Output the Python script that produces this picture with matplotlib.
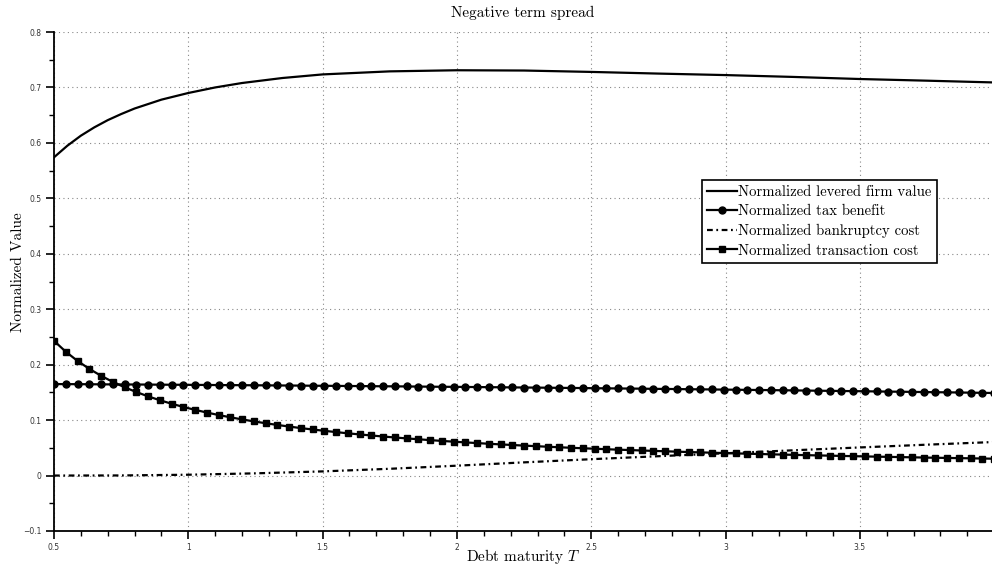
import numpy as np
import matplotlib
matplotlib.use("Agg")
import matplotlib.pyplot as plt
from matplotlib.ticker import MultipleLocator, FuncFormatter

# ---------------- data ----------------
maturity_grid = np.linspace(0.5, 4.0, 81)

tax_benefit = [
    0.1650, 0.1649, 0.1648, 0.1647, 0.1645, 0.1644, 0.1643, 0.1642, 0.1641, 0.1639,
    0.1638, 0.1637, 0.1635, 0.1634, 0.1632, 0.1631, 0.1630, 0.1628, 0.1627, 0.1625,
    0.1624, 0.1622, 0.1620, 0.1619, 0.1617, 0.1615, 0.1614, 0.1612, 0.1610, 0.1609,
    0.1607, 0.1605, 0.1603, 0.1601, 0.1600, 0.1598, 0.1596, 0.1594, 0.1592, 0.1590,
    0.1588, 0.1586, 0.1584, 0.1582, 0.1580, 0.1578, 0.1575, 0.1573, 0.1571, 0.1569,
    0.1567, 0.1564, 0.1562, 0.1560, 0.1557, 0.1555, 0.1553, 0.1550, 0.1548, 0.1545,
    0.1543, 0.1541, 0.1538, 0.1536, 0.1533, 0.1530, 0.1528, 0.1525, 0.1523, 0.1520,
    0.1517, 0.1514, 0.1512, 0.1509, 0.1506, 0.1503, 0.1501, 0.1498, 0.1495, 0.1492,
    0.1489,
]

transaction_cost = [
    0.2430, 0.2234, 0.2068, 0.1925, 0.1800, 0.1690, 0.1593, 0.1507, 0.1429, 0.1359,
    0.1296, 0.1238, 0.1185, 0.1137, 0.1092, 0.1051, 0.1013, 0.0977, 0.0944, 0.0913,
    0.0884, 0.0856, 0.0831, 0.0807, 0.0784, 0.0762, 0.0742, 0.0723, 0.0704, 0.0687,
    0.0670, 0.0655, 0.0639, 0.0625, 0.0611, 0.0598, 0.0586, 0.0573, 0.0562, 0.0551,
    0.0540, 0.0530, 0.0520, 0.0510, 0.0501, 0.0492, 0.0484, 0.0475, 0.0467, 0.0460,
    0.0452, 0.0445, 0.0438, 0.0431, 0.0424, 0.0418, 0.0412, 0.0406, 0.0400, 0.0394,
    0.0389, 0.0383, 0.0378, 0.0373, 0.0368, 0.0363, 0.0359, 0.0354, 0.0350, 0.0345,
    0.0341, 0.0337, 0.0333, 0.0329, 0.0325, 0.0321, 0.0318, 0.0314, 0.0311, 0.0307,
    0.0304,
]

firm_T = [0.5, 0.55, 0.6, 0.65, 0.7, 0.75, 0.8, 0.9, 1.0, 1.1, 1.2, 1.35, 1.5,
          1.75, 2.0, 2.25, 2.5, 2.75, 3.0, 3.25, 3.5, 3.75, 4.0]
firm_value = [0.574, 0.595, 0.613, 0.628, 0.641, 0.652, 0.662, 0.678, 0.690,
              0.700, 0.708, 0.717, 0.7235, 0.729, 0.731, 0.7305, 0.728, 0.725,
              0.7223, 0.719, 0.7152, 0.7122, 0.709]

bank_T = [0.5, 0.75, 1.0, 1.25, 1.5, 1.75, 2.0, 2.25, 2.5, 2.75, 3.0, 3.25,
          3.5, 3.75, 4.0]
bankruptcy_cost = [0.0, 0.0002, 0.0015, 0.0040, 0.0075, 0.0122, 0.0178, 0.0238,
                   0.0295, 0.0349, 0.0402, 0.0455, 0.0507, 0.0557, 0.0605]

labels = ["Normalized levered firm value", "Normalized tax benefit",
          "Normalized bankruptcy cost", "Normalized transaction cost"]

# ---------------- style ----------------
plt.rcParams["mathtext.fontset"] = "cm"
plt.rcParams["axes.unicode_minus"] = True
serif = "cmr10"

fig = plt.figure(figsize=(9.92, 5.68), dpi=100)
ax = fig.add_axes([54 / 992, (568 - 531) / 568, (992 - 54) / 992, (531 - 32) / 568])

lw = 1.6
ax.plot(firm_T, firm_value, color="black", lw=lw, label=labels[0], zorder=3)
ax.plot(maturity_grid, tax_benefit, color="black", lw=lw, marker="o",
        markersize=5.0, markerfacecolor="black", markeredgecolor="black",
        label=labels[1], zorder=3)
ax.plot(bank_T, bankruptcy_cost, color="black", lw=lw,
        linestyle=(0, (2.6, 1.6, 0.8, 1.6)), label=labels[2], zorder=3)
ax.plot(maturity_grid, transaction_cost, color="black", lw=lw, marker="s",
        markersize=4.4, markerfacecolor="black", markeredgecolor="black",
        label=labels[3], zorder=3)

ax.set_xlim(0.5, 3.992)
ax.set_ylim(-0.1, 0.8)

ax.xaxis.set_major_locator(MultipleLocator(0.5))
ax.xaxis.set_minor_locator(MultipleLocator(0.1))
ax.yaxis.set_major_locator(MultipleLocator(0.1))
ax.yaxis.set_minor_locator(MultipleLocator(0.05))

def fmt(v, pos):
    s = "%g" % round(v, 3)
    return s.replace("-", "\u2212")

ax.xaxis.set_major_formatter(FuncFormatter(fmt))
ax.yaxis.set_major_formatter(FuncFormatter(fmt))

ax.tick_params(axis="both", which="major", direction="out", length=6, width=1.2,
               labelsize=5.5, labelcolor="#333333", colors="black", pad=3)
ax.tick_params(axis="both", which="minor", direction="out", length=3.5, width=1.0)
for lab in ax.get_xticklabels() + ax.get_yticklabels():
    lab.set_fontfamily("DejaVu Sans")

ax.spines["top"].set_visible(False)
ax.spines["right"].set_visible(False)
ax.spines["left"].set_linewidth(1.3)
ax.spines["bottom"].set_linewidth(1.3)

ax.grid(True, which="major", linestyle=(0, (1, 3)), color="#888888", linewidth=0.8)
ax.set_axisbelow(True)

ax.set_title("Negative term spread", fontfamily=serif, fontsize=11, pad=11)
ax.set_xlabel("Debt maturity $T$", fontfamily=serif, fontsize=11)
ax.set_ylabel("Normalized Value", fontfamily=serif, fontsize=11)
ax.xaxis.set_label_coords((523 - 54) / 938, (531 - 557) / 499)
ax.yaxis.set_label_coords((18 - 54) / 938, (531 - 272) / 499)
ax.xaxis.label.set_va("center")
ax.yaxis.label.set_va("center")

leg = ax.legend(loc="upper left", bbox_to_anchor=(0.691, 0.703),
                prop={"family": serif, "size": 10.6}, frameon=True, fancybox=False,
                edgecolor="black", framealpha=1, handlelength=2.0,
                handletextpad=0.1, borderpad=0.35, labelspacing=0.38,
                borderaxespad=0)
leg.get_frame().set_linewidth(1.2)

fig.savefig("out.png", dpi=100)
